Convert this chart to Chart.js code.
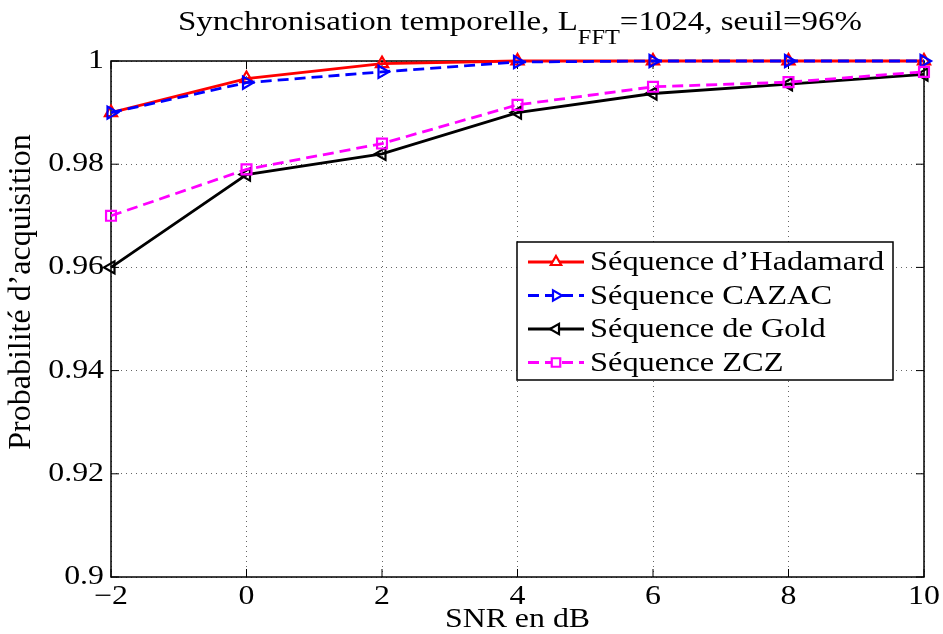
<!DOCTYPE html>
<html>
<head>
<meta charset="utf-8">
<script src="https://cdn.jsdelivr.net/npm/chart.js@4/dist/chart.umd.min.js"></script>
<style>
  html, body { margin: 0; padding: 0; background: #fff; }
  #wrap { width: 943px; height: 634px; }
</style>
</head>
<body>
<div id="wrap"><canvas id="chart" width="943" height="634"></canvas></div>
<script>
// valeurs
const snrDb = [-2, 0, 2, 4, 6, 8, 10];
const hadamard = [0.990, 0.9966, 0.9995, 1.0, 1.0, 1.0, 1.0];
const cazac = [0.990, 0.9958, 0.9979, 0.9998, 1.0, 1.0, 1.0];
const gold = [0.960, 0.978, 0.982, 0.990, 0.9937, 0.9955, 0.9974];
const zcz = [0.970, 0.979, 0.984, 0.9915, 0.995, 0.9959, 0.9979];

const seriesNames = ['Séquence d\u2019Hadamard', 'Séquence CAZAC', 'Séquence de Gold', 'Séquence ZCZ'];
const xTicks = [-2, 0, 2, 4, 6, 8, 10];
const yTicks = [0.9, 0.92, 0.94, 0.96, 0.98, 1];
const xTickLabels = ['\u22122', '0', '2', '4', '6', '8', '10'];
const yTickLabels = ['0.9', '0.92', '0.94', '0.96', '0.98', '1'];

const FONT = '"Liberation Serif", "Times New Roman", serif';
const SX = 1.18; // le texte de la figure est un peu etire en largeur

const toPoints = (ys) => snrDb.map((x, i) => ({ x: x, y: ys[i] }));

const makeSet = (label, ys, color, style, rotation, dash, order) => ({
    label: label,
    data: toPoints(ys),
    borderColor: color,
    backgroundColor: color,
    borderWidth: 2.8,
    borderDash: dash,
    pointStyle: style,
    pointRadius: 7,
    pointRotation: rotation,
    pointBorderWidth: 2.2,
    pointBackgroundColor: 'rgba(255,255,255,0)',
    pointBorderColor: color,
    tension: 0,
    fill: false,
    clip: false,
    order: order
});

// texte etire horizontalement
const drawText = (ctx, text, x, y, align, size, sx) => {
    ctx.save();
    ctx.font = size + 'px ' + FONT;
    const w = ctx.measureText(text).width * sx;
    let left = x;
    if (align === 'center') left = x - w / 2;
    if (align === 'right') left = x - w;
    ctx.translate(left, y);
    ctx.scale(sx, 1);
    ctx.textAlign = 'left';
    ctx.fillText(text, 0, 0);
    ctx.restore();
    return w;
};

const textPlugin = {
    id: 'texts',
    afterDraw: (chart) => {
        const { ctx, scales, chartArea: ca } = chart;
        ctx.save();
        ctx.fillStyle = '#000';
        ctx.textBaseline = 'middle';

        // graduations
        xTicks.forEach((v, i) => {
            drawText(ctx, xTickLabels[i], scales.x.getPixelForValue(v), ca.bottom + 20, 'center', 27, SX);
        });
        yTicks.forEach((v, i) => {
            drawText(ctx, yTickLabels[i], ca.left - 7, scales.y.getPixelForValue(v), 'right', 27, SX);
        });

        // titres des axes
        drawText(ctx, 'SNR en dB', (ca.left + ca.right) / 2, 620, 'center', 27, SX);
        ctx.save();
        ctx.translate(22, (ca.top + ca.bottom) / 2 - 27);
        ctx.rotate(-Math.PI / 2);
        ctx.font = '32px ' + FONT;
        ctx.textAlign = 'center';
        ctx.fillText('Probabilit\u00e9 d\u2019acquisition', 0, 0);
        ctx.restore();

        // titre avec indice FFT
        ctx.textBaseline = 'alphabetic';
        const tsx = 1.22;
        const a = 'Synchronisation temporelle, L';
        const sub = 'FFT';
        const b = '=1024, seuil=96%';
        ctx.font = '27px ' + FONT;
        const wa = ctx.measureText(a).width * tsx;
        const wb = ctx.measureText(b).width * tsx;
        ctx.font = '20px ' + FONT;
        const ws = ctx.measureText(sub).width * tsx;
        let x = 520 - (wa + ws + wb) / 2;
        x += drawText(ctx, a, x, 30, 'left', 27, tsx);
        x += drawText(ctx, sub, x, 44, 'left', 20, tsx);
        drawText(ctx, b, x, 30, 'left', 27, tsx);
        ctx.restore();
    }
};

// cadre + graduations vers l'interieur
const framePlugin = {
    id: 'frame',
    beforeDatasetsDraw: (chart) => {
        const { ctx, chartArea: ca, scales } = chart;
        ctx.save();
        ctx.strokeStyle = '#000';
        ctx.lineWidth = 1.5;
        ctx.strokeRect(ca.left, ca.top, ca.right - ca.left, ca.bottom - ca.top);
        ctx.lineWidth = 1;
        ctx.beginPath();
        xTicks.forEach((v) => {
            const px = scales.x.getPixelForValue(v);
            ctx.moveTo(px, ca.bottom); ctx.lineTo(px, ca.bottom - 8);
            ctx.moveTo(px, ca.top); ctx.lineTo(px, ca.top + 8);
        });
        yTicks.forEach((v) => {
            const py = scales.y.getPixelForValue(v);
            ctx.moveTo(ca.left, py); ctx.lineTo(ca.left + 8, py);
            ctx.moveTo(ca.right, py); ctx.lineTo(ca.right - 8, py);
        });
        ctx.stroke();
        ctx.restore();
    }
};

// legende dans le graphe
const legendPlugin = {
    id: 'boxLegend',
    afterDatasetsDraw: (chart) => {
        const ctx = chart.ctx;
        const left = 517, top = 242, w = 376, h = 138;
        ctx.save();
        ctx.fillStyle = '#fff';
        ctx.fillRect(left, top, w, h);
        ctx.strokeStyle = '#000';
        ctx.lineWidth = 1.5;
        ctx.strokeRect(left, top, w, h);
        chart.data.datasets.forEach((ds, i) => {
            const y = top + 20 + i * 33.5;
            ctx.strokeStyle = ds.borderColor;
            ctx.lineWidth = ds.borderWidth;
            ctx.setLineDash(ds.borderDash || []);
            ctx.beginPath();
            ctx.moveTo(528, y);
            ctx.lineTo(584, y);
            ctx.stroke();
            ctx.setLineDash([]);
            ctx.lineWidth = ds.pointBorderWidth;
            ctx.strokeStyle = ds.pointBorderColor;
            ctx.fillStyle = '#fff';
            Chart.helpers.drawPoint(ctx, {
                pointStyle: ds.pointStyle,
                radius: 6,
                rotation: ds.pointRotation,
                borderWidth: ds.pointBorderWidth
            }, 556, y);
            ctx.fillStyle = '#000';
            ctx.textBaseline = 'middle';
            drawText(ctx, ds.label, 590, y + 1, 'left', 27, 1.2);
        });
        ctx.restore();
    }
};

const ctx = document.getElementById('chart');
new Chart(ctx, {
    type: 'line',
    data: {
        datasets: [
            makeSet(seriesNames[0], hadamard, '#ff0000', 'triangle', 0, [], 4),
            makeSet(seriesNames[1], cazac, '#0000ff', 'triangle', 90, [11, 6], 3),
            makeSet(seriesNames[2], gold, '#000000', 'triangle', -90, [], 2),
            makeSet(seriesNames[3], zcz, '#ff00ff', 'rect', 0, [11, 6], 1)
        ]
    },
    options: {
        responsive: false,
        animation: false,
        devicePixelRatio: 1,
        layout: {
            padding: { top: 61, right: 19, left: 0, bottom: 0 }
        },
        plugins: {
            legend: { display: false },
            title: { display: false },
            tooltip: { enabled: false }
        },
        scales: {
            x: {
                type: 'linear',
                min: -2,
                max: 10,
                afterBuildTicks: (scale) => {
                    scale.ticks = xTicks.map((v) => ({ value: v }));
                },
                afterFit: (scale) => { scale.height = 57; },
                ticks: { display: false },
                grid: {
                    color: 'rgba(0,0,0,0.6)',
                    lineWidth: 1,
                    tickLength: 0
                },
                border: { display: false, dash: [1, 4] }
            },
            y: {
                type: 'linear',
                min: 0.9,
                max: 1,
                afterBuildTicks: (scale) => {
                    scale.ticks = yTicks.map((v) => ({ value: v }));
                },
                afterFit: (scale) => { scale.width = 111; },
                ticks: { display: false },
                grid: {
                    color: 'rgba(0,0,0,0.6)',
                    lineWidth: 1,
                    tickLength: 0
                },
                border: { display: false, dash: [1, 4] }
            }
        }
    },
    plugins: [textPlugin, framePlugin, legendPlugin]
});
</script>
</body>
</html>
